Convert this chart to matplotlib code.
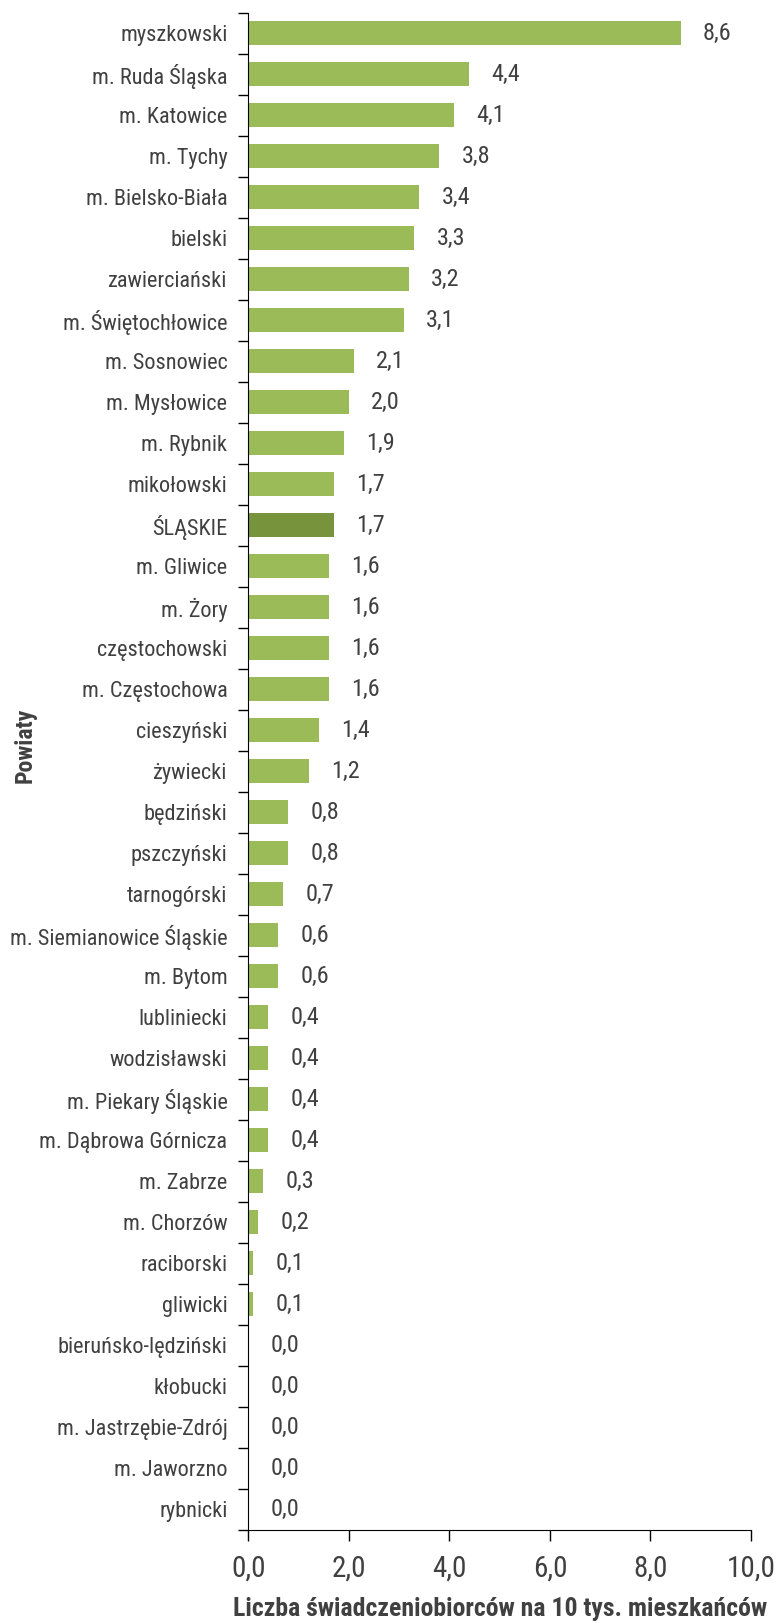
import matplotlib.pyplot as plt
from matplotlib.ticker import FixedLocator

plt.rcParams['font.family'] = ['Roboto Condensed', 'DejaVu Sans']

# Powiaty i wartosci (liczba swiadczeniobiorcow na 10 tys. mieszkancow)
powiaty = ["myszkowski", "m. Ruda Śląska", "m. Katowice", "m. Tychy", "m. Bielsko-Biała",
           "bielski", "zawierciański", "m. Świętochłowice", "m. Sosnowiec", "m. Mysłowice",
           "m. Rybnik", "mikołowski", "ŚLĄSKIE", "m. Gliwice", "m. Żory",
           "częstochowski", "m. Częstochowa", "cieszyński", "żywiecki", "będziński",
           "pszczyński", "tarnogórski", "m. Siemianowice Śląskie", "m. Bytom", "lubliniecki",
           "wodzisławski", "m. Piekary Śląskie", "m. Dąbrowa Górnicza", "m. Zabrze", "m. Chorzów",
           "raciborski", "gliwicki", "bieruńsko-lędziński", "kłobucki", "m. Jastrzębie-Zdrój",
           "m. Jaworzno", "rybnicki"]
wartosci = [8.6, 4.4, 4.1, 3.8, 3.4, 3.3, 3.2, 3.1, 2.1, 2.0,
            1.9, 1.7, 1.7, 1.6, 1.6, 1.6, 1.6, 1.4, 1.2, 0.8,
            0.8, 0.7, 0.6, 0.6, 0.4, 0.4, 0.4, 0.4, 0.3, 0.2,
            0.1, 0.1, 0.0, 0.0, 0.0, 0.0, 0.0]
xticks = [0, 2, 4, 6, 8, 10]

kolor = '#9BBB59'
kolor_woj = '#77933C'
tekst = '#404040'

fig = plt.figure(figsize=(7.8, 16.23), dpi=100)
ax = fig.add_axes([0.3183, 0.0573, 0.9628 - 0.3183, 0.99218 - 0.0573])

pos = list(range(len(powiaty)))
colors = [kolor_woj if p == "ŚLĄSKIE" else kolor for p in powiaty]
ax.barh(pos, wartosci, height=0.585, color=colors, edgecolor='none')

# etykiety wartosci z przecinkiem dziesietnym
for y, v in zip(pos, wartosci):
    ax.annotate(f"{v:.1f}".replace('.', ','), (v, y), xytext=(16, 0),
                textcoords='offset points', ha='left', va='center',
                fontsize=17.5, color=tekst)

ax.set_ylim(len(powiaty) - 0.5, -0.5)
ax.set_xlim(0, 10)

ax.set_yticks(pos)
ax.set_yticklabels(powiaty, fontsize=16, color=tekst)
ax.tick_params(axis='y', which='major', length=0, pad=15)
ax.yaxis.set_minor_locator(FixedLocator([i - 0.5 for i in range(len(powiaty) + 1)]))
ax.tick_params(axis='y', which='minor', length=7, width=1, color='#000000', direction='out')

ax.set_xticks(xticks)
ax.set_xticklabels([f"{t:.1f}".replace('.', ',') for t in xticks], fontsize=21, color=tekst)
ax.tick_params(axis='x', length=8, width=1, color='#000000', direction='out', pad=10)

for s in ['top', 'right']:
    ax.spines[s].set_visible(False)
ax.spines['left'].set_color('#000000')
ax.spines['bottom'].set_color('#000000')

ax.set_xlabel("Liczba świadczeniobiorców na 10 tys. mieszkańców", fontsize=18.5,
              fontweight='bold', color=tekst, labelpad=10)
fig.text(25 / 780, 1 - 745 / 1623, "Powiaty", rotation=90, fontsize=17,
         fontweight='bold', color=tekst, ha='center', va='center')

fig.savefig('out.png', dpi=100)
